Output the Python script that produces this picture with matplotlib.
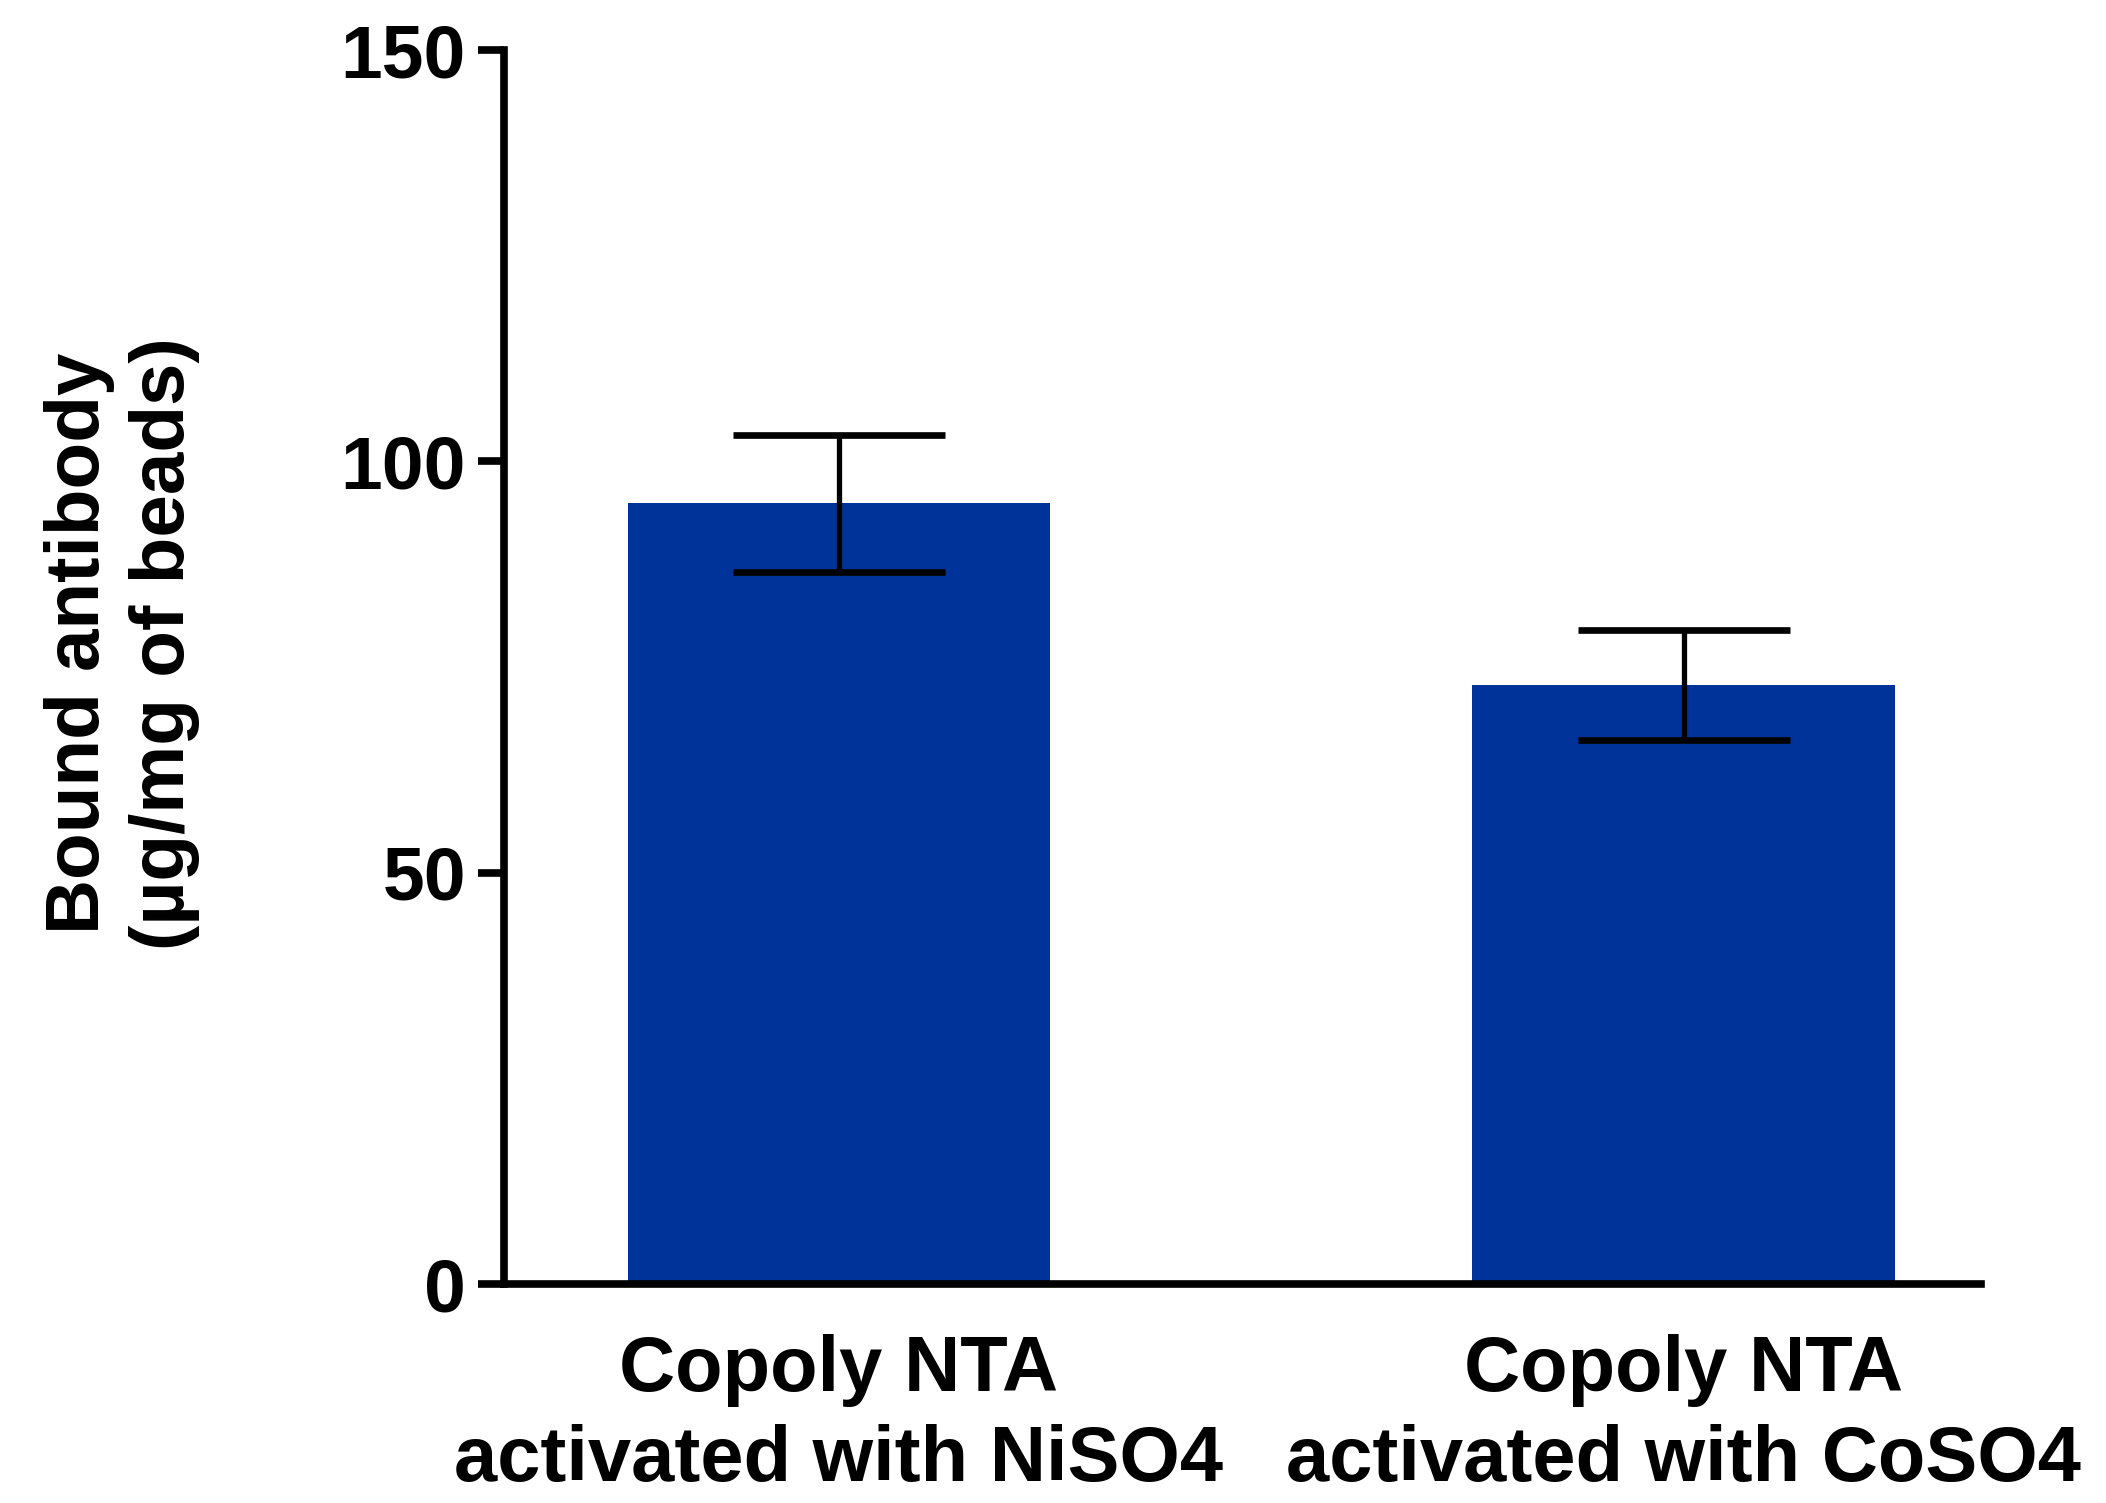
import matplotlib
matplotlib.use("Agg")
import matplotlib.pyplot as plt

plt.rcParams['font.family'] = ['Liberation Sans', 'DejaVu Sans']
plt.rcParams['font.weight'] = 'bold'

# data
categories = ['Copoly NTA\nactivated with NiSO4', 'Copoly NTA\nactivated with CoSO4']
means = [94.9, 72.8]
errors = [8.3, 6.7]
yticks = [0, 50, 100, 150]

fig = plt.figure(figsize=(21.06, 15.03), dpi=100)
ax = fig.add_axes([0.2391, 0.1457, 0.7015, 0.8210])

x = list(range(len(categories)))
ax.bar(x, means, width=0.5, color='#003399', zorder=2)
ax.errorbar(x, means, yerr=errors, fmt='none', ecolor='black',
            elinewidth=3.8, capsize=76, capthick=4.8, zorder=3)

ax.set_xlim(-0.397, 1.352)
ax.set_ylim(0, 150)
ax.set_yticks(yticks)
ax.set_xticks(x)
ax.set_xticklabels(categories, fontsize=56, fontweight='bold', linespacing=1.3)
ax.tick_params(axis='x', length=0, pad=36)
ax.tick_params(axis='y', length=19, width=5.5, labelsize=54, pad=8, direction='out')
for lab in ax.get_yticklabels():
    lab.set_fontweight('bold')

for s in ['top', 'right']:
    ax.spines[s].set_visible(False)
for s in ['left', 'bottom']:
    ax.spines[s].set_linewidth(5.5)

fig.text(0.058, 0.572, 'Bound antibody\n(µg/mg of beads)', rotation=90,
         ha='center', va='center', fontsize=55, fontweight='bold',
         multialignment='center', linespacing=1.25)

fig.savefig('out.png', dpi=100)
